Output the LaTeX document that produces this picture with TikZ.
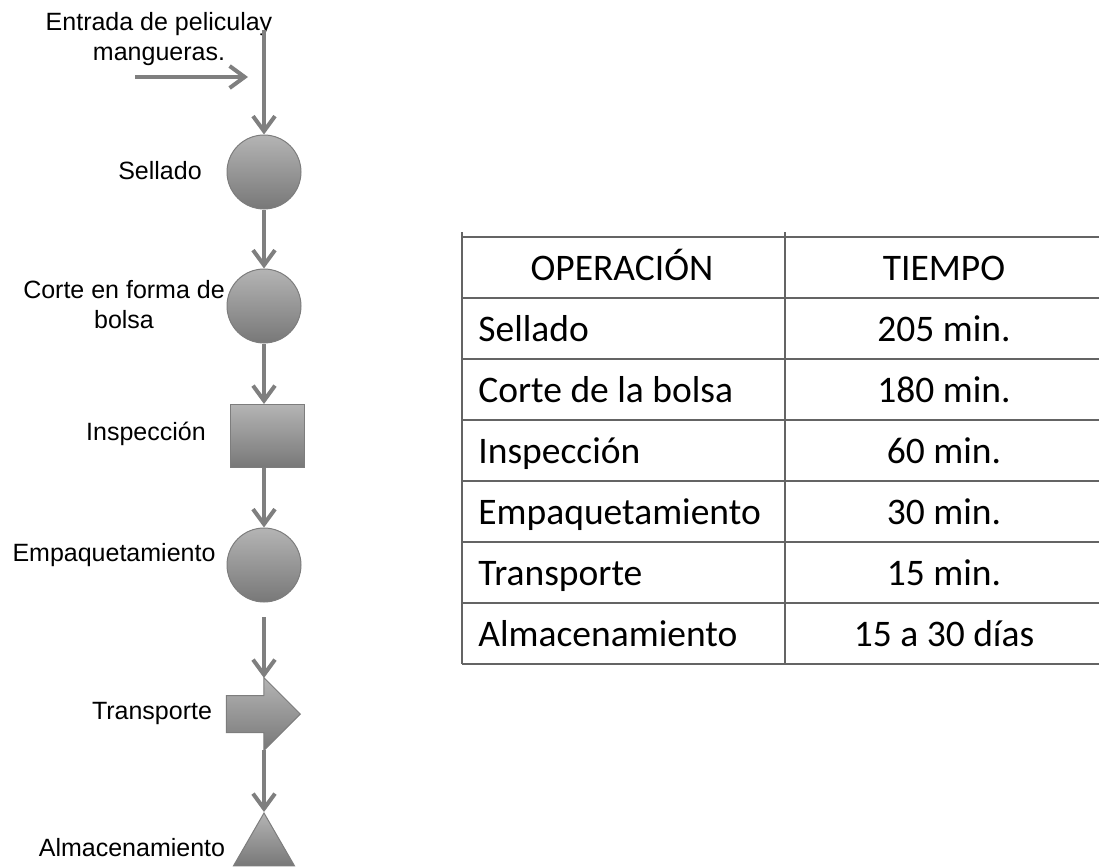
\documentclass[tikz,border=0pt]{standalone}
\usepackage{fontspec}
\setmainfont{Liberation Sans}
\newfontfamily\tablefont{Carlito}
\usepackage{tikz}
\usepackage{xcolor}
\usetikzlibrary{shapes.geometric, shapes.arrows, arrows.meta, positioning, calc}
\definecolor{cFlow}{RGB}{127,127,127}
\definecolor{cTop}{RGB}{180,180,180}
\definecolor{cBottom}{RGB}{120,120,120}
\definecolor{cEdge}{RGB}{125,125,125}
\definecolor{cRule}{RGB}{100,100,100}
\tikzset{
	opshape/.style  ={draw=cEdge, line width=0.5pt, top color=cTop, bottom color=cBottom, inner sep=0pt},
	operation/.style={opshape, circle, minimum size=37pt},
	inspect/.style  ={opshape, rectangle, minimum width=37pt, minimum height=31.5pt},
	transport/.style={opshape, single arrow, inner sep=9pt, single arrow head extend=9pt, minimum height=37pt},
	storage/.style  ={opshape, regular polygon, regular polygon sides=3, minimum size=35.2pt},
	flow/.style     ={-{Straight Barb[length=7.5pt, width=11pt]}, line width=2pt, cFlow},
	% text styles
	lbl/.style      ={font=\fontsize{12.5pt}{15pt}\selectfont, align=center, inner sep=0pt},
	cell/.style     ={font=\tablefont\fontsize{18.75pt}{22pt}\selectfont, inner sep=0pt},
	rule/.style     ={cRule, line width=0.9pt},
}
\begin{document}
\begin{tikzpicture}[x=0.5pt, y=-0.5pt]
	\useasboundingbox (0,0) rectangle (1099,867);
	% flow chart
	\node[operation] (sellado) at (264,172) {};
	\node[operation] (corte)   at (264,306) {};
	\node[inspect]   (insp)    at (267,436) {};
	\node[operation] (empaq)   at (264,565) {};
	\node[transport, anchor=tip] (transp) at (301,714) {};
	\node[storage, anchor=corner 1] (almac) at (264,812) {};

	\node[lbl] (entrada)  at (159,39)  {Entrada de peliculay\\mangueras.};
	\node[lbl] (lSellado) at (160,171) {Sellado};
	\node[lbl] (lCorte)   at (124,305) {Corte en forma de\\bolsa};
	\node[lbl] (lInsp)    at (146,434) {Inspección};
	\node[lbl] (lEmpaq)   at (114,555) {Empaquetamiento};
	\node[lbl] (lTransp)  at (152,713) {Transporte};
	\node[lbl] (lAlmac)   at (132,848) {Almacenamiento};

	\coordinate (entradaTop) at (264,30);
	\coordinate (lateralIni) at (135,77);
	\coordinate (lateralFin) at (248,77);
	\coordinate (empaqGap)   at (264,617);
	\draw[flow] (entradaTop) -- (sellado.north);
	\draw[flow] (lateralIni) -- (lateralFin);
	\draw[flow] (sellado) -- (corte);
	\draw[flow] (corte.south) -- (corte.south |- insp.north);
	\draw[flow] (empaq.north |- insp.south) -- (empaq.north);
	\draw[flow] (empaqGap) -- ($(transp.tip)+(-37,-36)$);
	\draw[flow] ($(transp.tip)+(-37,36)$) -- (almac.corner 1);

	% table
	\draw[rule] (462,237) -- (1099,237) (462,298) -- (1099,298) (462,359) -- (1099,359) (462,420) -- (1099,420)
		(462,481) -- (1099,481) (462,542) -- (1099,542) (462,603) -- (1099,603) (462,664) -- (1099,664);
	\draw[rule, line width=0.6pt] (462,232) -- (462,664) (785,232) -- (785,664);

	\node[cell, anchor=base]      (hOper)   at (622,280) {OPERACIÓN};
	\node[cell, anchor=base]      (hTiempo) at (944,280) {TIEMPO};
	\node[cell, anchor=base west] (op1) at (478,341) {Sellado};
	\node[cell, anchor=base]      (t1)  at (944,341) {205 min.};
	\node[cell, anchor=base west] (op2) at (478,402) {Corte de la bolsa};
	\node[cell, anchor=base]      (t2)  at (944,402) {180 min.};
	\node[cell, anchor=base west] (op3) at (478,463) {Inspección};
	\node[cell, anchor=base]      (t3)  at (944,463) {60 min.};
	\node[cell, anchor=base west] (op4) at (478,524) {Empaquetamiento};
	\node[cell, anchor=base]      (t4)  at (944,524) {30 min.};
	\node[cell, anchor=base west] (op5) at (478,585) {Transporte};
	\node[cell, anchor=base]      (t5)  at (944,585) {15 min.};
	\node[cell, anchor=base west] (op6) at (478,646) {Almacenamiento};
	\node[cell, anchor=base]      (t6)  at (944,646) {15 a 30 días};
\end{tikzpicture}
\end{document}
